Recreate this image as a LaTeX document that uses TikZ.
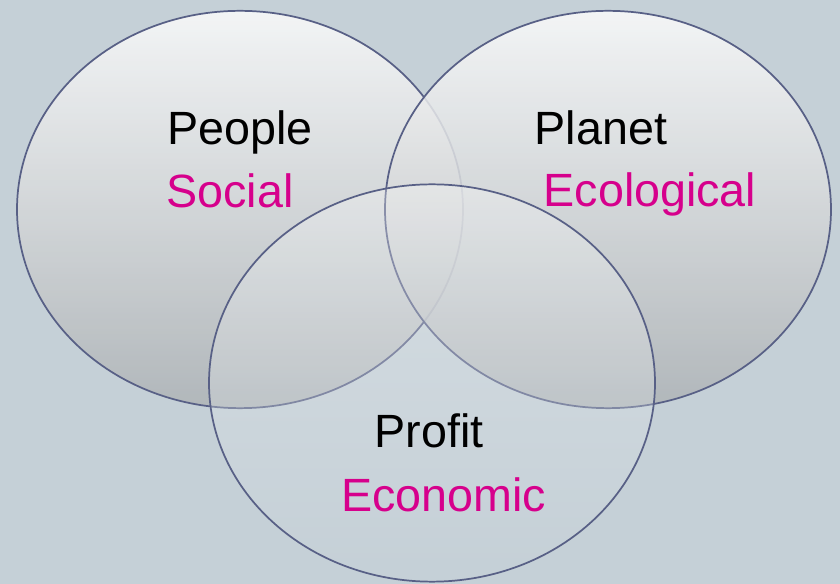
\documentclass[tikz,border=0pt]{standalone}
\usepackage{fontspec}
\setmainfont{Liberation Sans}
\usetikzlibrary{shapes.geometric}
\definecolor{bgblue}{RGB}{197,208,215}
\definecolor{rim}{RGB}{88,96,134}
\definecolor{pink}{RGB}{214,0,140}
\definecolor{shadegray}{RGB}{174,179,182}
\tikzset{x=0.75pt, y=-0.75pt,
venn/.style={
ellipse,
draw=rim,
line width=1.3pt,
inner sep=0pt,
minimum width=334.5pt,
minimum height=298pt,
top color=white!97!gray,
bottom color=shadegray,
fill opacity=0.85},
head/.style={
anchor=base,
font=\fontsize{35}{42}\selectfont},
tag/.style={
head,
text=pink}}

\begin{document}
\begin{tikzpicture}
\fill[bgblue] (0,0) rectangle (840,584);
\useasboundingbox (0,0) rectangle (840,584);
\node[venn] (people) at (240,209.5) {};
\node[venn] (planet) at (608,209.5) {};
\node[venn, top color=white, middle color=bgblue, bottom color=bgblue, fill opacity=0.3] (profit) at (432,383) {};
\node[head] (peoplet) at (240,145) {People};
\node[tag] (social) at (230,208) {Social};
\node[head] (planett) at (601,145) {Planet};
\node[tag] (eco) at (650,207) {Ecological};
\node[head] (profitt) at (429,448) {Profit};
\node[tag] (econ) at (443.5,512) {Economic};
\end{tikzpicture}
\end{document}
